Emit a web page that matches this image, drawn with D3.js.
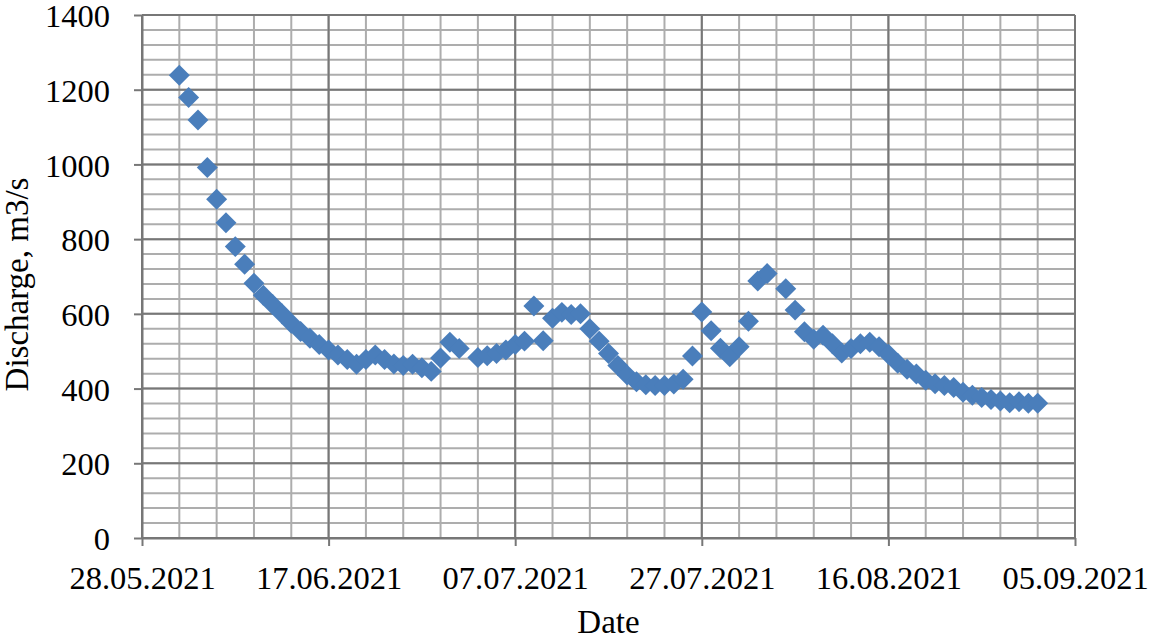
<!DOCTYPE html>
<html>
<head>
<meta charset="utf-8">
<script src="https://cdn.jsdelivr.net/npm/d3@7"></script>
<style>
  body { margin: 0; background: #fff; }
  text { font-family: "Liberation Serif", "Times New Roman", serif; fill: #000; }
</style>
</head>
<body>
<svg id="chart" width="1150" height="639"></svg>
<script>
// Daily discharge readings (two days have no marker: 02.07 and 04.08)
const dates = [
  "01.06.2021", "02.06.2021", "03.06.2021", "04.06.2021", "05.06.2021", "06.06.2021",
  "07.06.2021", "08.06.2021", "09.06.2021", "10.06.2021", "11.06.2021", "12.06.2021",
  "13.06.2021", "14.06.2021", "15.06.2021", "16.06.2021", "17.06.2021", "18.06.2021",
  "19.06.2021", "20.06.2021", "21.06.2021", "22.06.2021", "23.06.2021", "24.06.2021",
  "25.06.2021", "26.06.2021", "27.06.2021", "28.06.2021", "29.06.2021", "30.06.2021",
  "01.07.2021", "03.07.2021", "04.07.2021", "05.07.2021", "06.07.2021", "07.07.2021",
  "08.07.2021", "09.07.2021", "10.07.2021", "11.07.2021", "12.07.2021", "13.07.2021",
  "14.07.2021", "15.07.2021", "16.07.2021", "17.07.2021", "18.07.2021", "19.07.2021",
  "20.07.2021", "21.07.2021", "22.07.2021", "23.07.2021", "24.07.2021", "25.07.2021",
  "26.07.2021", "27.07.2021", "28.07.2021", "29.07.2021", "30.07.2021", "31.07.2021",
  "01.08.2021", "02.08.2021", "03.08.2021", "05.08.2021", "06.08.2021", "07.08.2021",
  "08.08.2021", "09.08.2021", "10.08.2021", "11.08.2021", "12.08.2021", "13.08.2021",
  "14.08.2021", "15.08.2021", "16.08.2021", "17.08.2021", "18.08.2021", "19.08.2021",
  "20.08.2021", "21.08.2021", "22.08.2021", "23.08.2021", "24.08.2021", "25.08.2021",
  "26.08.2021", "27.08.2021", "28.08.2021", "29.08.2021", "30.08.2021", "31.08.2021",
  "01.09.2021"
];

const discharge = [
  1239, 1179, 1119, 992, 907, 844,
  780, 733, 682, 650, 625, 600,
  575, 553, 535, 518, 503, 490,
  478, 465, 478, 490, 478, 466,
  462, 465, 456, 446, 482, 524,
  507, 483, 488, 494, 503, 518,
  527, 621, 528, 588, 604, 598,
  600, 560, 527, 494, 462, 436,
  418, 410, 408, 408, 412, 425,
  487, 605, 555, 508, 485, 512,
  580, 688, 708, 667, 610, 552,
  532, 543, 520, 495, 507, 520,
  524, 512, 492, 468, 452, 439,
  422, 413, 408, 403, 390, 382,
  376, 371, 367, 362, 365, 361,
  361
];

// Axis ticks
const xTickLabels = ["28.05.2021", "17.06.2021", "07.07.2021", "27.07.2021", "16.08.2021", "05.09.2021"];
const yTicks = [0, 200, 400, 600, 800, 1000, 1200, 1400];

const parseDate = d3.utcParse("%d.%m.%Y");
const fmtDate = d3.utcFormat("%d.%m.%Y");

const points = dates.map((d, i) => ({ date: parseDate(d), value: discharge[i] }));
const tickDates = xTickLabels.map(parseDate);

const svg = d3.select("#chart");
const plotLeft = 142, plotRight = 1075, plotTop = 15, plotBottom = 538;

const x = d3.scaleUtc()
  .domain([tickDates[0], tickDates[tickDates.length - 1]])
  .range([plotLeft, plotRight]);

const y = d3.scaleLinear()
  .domain([0, 1400])
  .range([plotBottom, plotTop]);

// Minor grid: every 4 days, every 40 m3/s
const minorX = d3.utcDay.range(tickDates[0], d3.utcDay.offset(tickDates[tickDates.length - 1], 1), 4);
const minorY = d3.range(0, 1401, 40);

const grid = svg.append("g");
grid.selectAll(".vmin").data(minorX).enter().append("line")
  .attr("x1", d => x(d)).attr("x2", d => x(d))
  .attr("y1", plotTop).attr("y2", plotBottom)
  .attr("stroke", "#adadad").attr("stroke-width", 2);
grid.selectAll(".hmin").data(minorY).enter().append("line")
  .attr("x1", plotLeft).attr("x2", plotRight)
  .attr("y1", d => y(d)).attr("y2", d => y(d))
  .attr("stroke", "#adadad").attr("stroke-width", 2);

// Major grid
grid.selectAll(".vmaj").data(tickDates).enter().append("line")
  .attr("x1", d => x(d)).attr("x2", d => x(d))
  .attr("y1", plotTop).attr("y2", plotBottom)
  .attr("stroke", "#777").attr("stroke-width", 2);
grid.selectAll(".hmaj").data(yTicks).enter().append("line")
  .attr("x1", plotLeft).attr("x2", plotRight)
  .attr("y1", d => y(d)).attr("y2", d => y(d))
  .attr("stroke", "#777").attr("stroke-width", 2);

// Axes
const xAxis = svg.append("g")
  .attr("transform", `translate(0, ${plotBottom})`)
  .call(d3.axisBottom(x).tickValues(tickDates).tickFormat(fmtDate)
    .tickSize(8).tickSizeOuter(0).tickPadding(20));

const yAxis = svg.append("g")
  .attr("transform", `translate(${plotLeft}, 0)`)
  .call(d3.axisLeft(y).tickValues(yTicks).tickFormat(d3.format("d"))
    .tickSize(8).tickSizeOuter(0).tickPadding(24));

[xAxis, yAxis].forEach(ax => {
  ax.select(".domain").attr("stroke", "#777").attr("stroke-width", 2);
  ax.selectAll(".tick line").attr("stroke", "#777").attr("stroke-width", 2);
  ax.selectAll(".tick text")
    .attr("fill", "#000")
    .style("font-family", "'Liberation Serif', 'Times New Roman', serif");
});
xAxis.selectAll(".tick text").style("font-size", "32.5px");
yAxis.selectAll(".tick text").style("font-size", "32.5px").attr("dy", "0.36em");

// Markers
svg.append("g").selectAll("path.pt")
  .data(points)
  .enter()
  .append("path")
    .attr("class", "pt")
    .attr("d", d3.symbol(d3.symbolSquare, 220))
    .attr("transform", d => `translate(${x(d.date)}, ${y(d.value)}) rotate(45)`)
    .attr("fill", "#4a7ebb");

// Axis titles
svg.append("text")
  .attr("x", (plotLeft + plotRight) / 2)
  .attr("y", 633)
  .attr("text-anchor", "middle")
  .style("font-size", "33px")
  .text("Date");

svg.append("text")
  .attr("transform", `translate(28, ${(plotTop + plotBottom) / 2 + 8}) rotate(-90)`)
  .attr("text-anchor", "middle")
  .style("font-size", "33px")
  .text("Discharge, m3/s");
</script>
</body>
</html>
